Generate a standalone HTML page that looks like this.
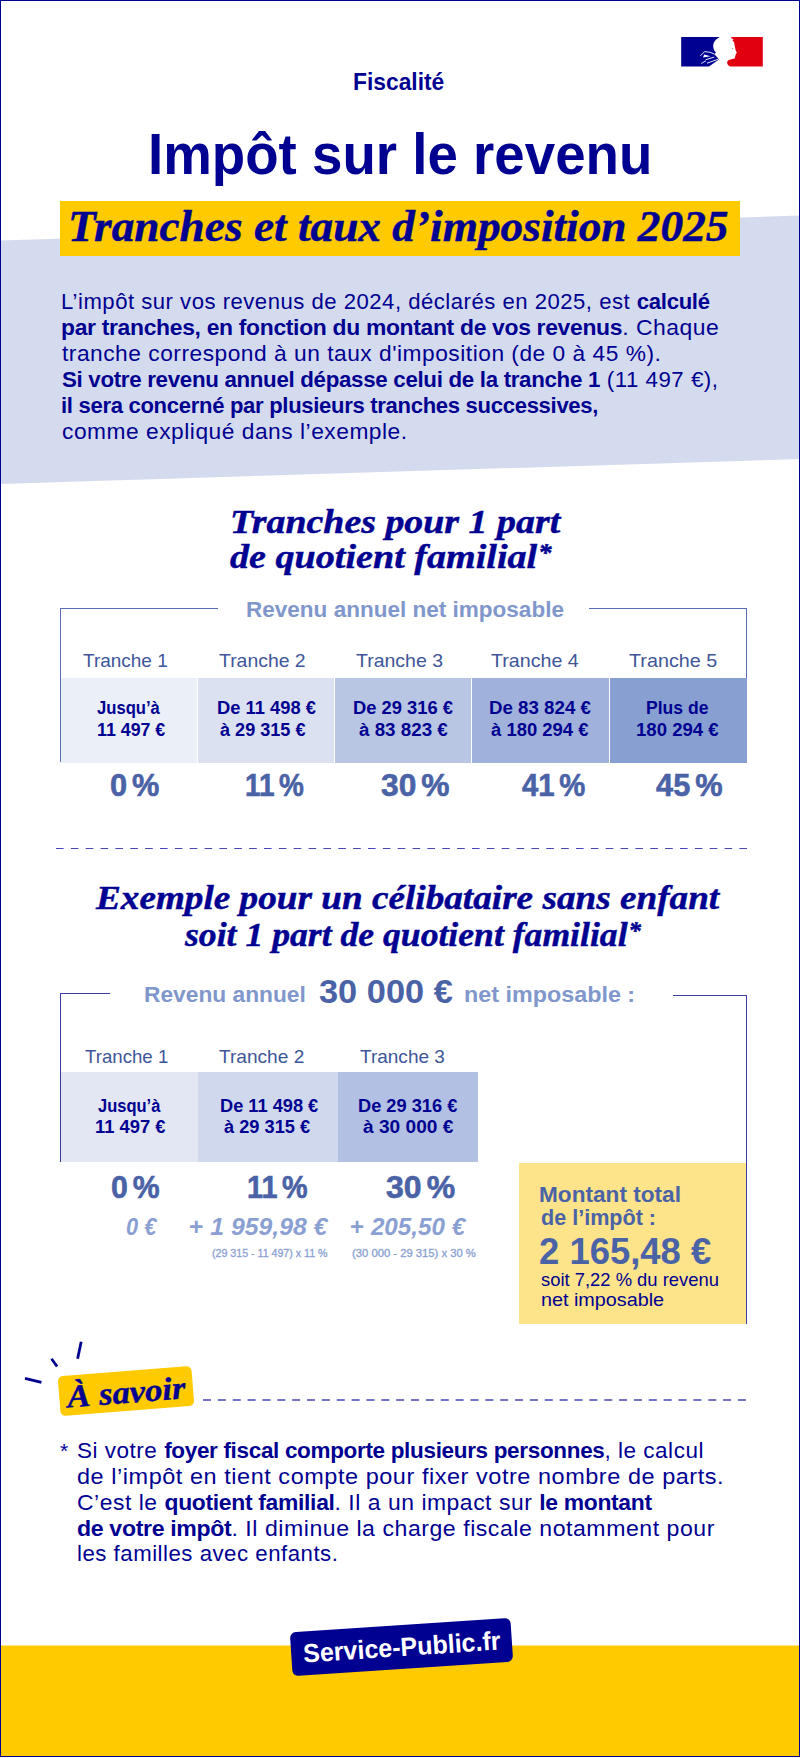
<!DOCTYPE html>
<html lang="fr">
<head>
<meta charset="utf-8">
<title>Impôt sur le revenu – Tranches et taux d’imposition 2025</title>
<style>
html,body{margin:0;padding:0;}
body{width:800px;height:1758px;position:relative;overflow:hidden;background:#fff;font-family:"Liberation Sans",sans-serif;color:#000091;}
.t{position:absolute;white-space:nowrap;transform-origin:0 0;}
.bm{display:inline-block;width:0;height:0;vertical-align:baseline;}
.ps{display:inline-block;width:5px;}
.t b{letter-spacing:-0.3px;}
.ast{font-size:0.7em;vertical-align:0.28em;margin-left:1px;}
.d{position:absolute;}
.ln{position:absolute;background:#5a6db0;}
.ln2{position:absolute;background:#3b3ba8;}
</style>
</head>
<body>
<div class="d deco" style="left:0;top:0;width:800px;height:1758px;">
<svg width="800" height="1758" viewBox="0 0 800 1758" style="position:absolute;left:0;top:0">
  <polygon points="0,240.6 800,215.6 800,459 0,484" fill="#d5dbee"/>
  <rect x="0" y="1645.5" width="800" height="111.5" fill="#ffca00"/>
  <!-- dashed separators -->
  <line x1="56" y1="848.5" x2="747.2" y2="848.5" stroke="#4646b4" stroke-width="1.2" stroke-dasharray="7.6 7.257"/>
  <line x1="203" y1="1400" x2="746.2" y2="1400" stroke="#7474c4" stroke-width="2" stroke-dasharray="8 6.86"/>
</svg>

<!-- logo -->
<svg style="position:absolute;left:680px;top:36px" width="84" height="32" viewBox="680 36 84 32">
  <path d="M681.2,36.9 L719.6,36.9 C717.2,38.4 714.8,40.4 713.7,42.8 C712.9,45.2 713.1,48.2 714.3,50.4 L715.9,52.6 L714.6,54.6 L716.9,57 L718.9,59.4 L709,66.5 L681.2,66.5 Z" fill="#000091"/>
  <g stroke="#fff" stroke-width="0.9" fill="none" stroke-linecap="round">
    <path d="M700.6,55.6 L704.6,51.6 Q710,51.6 714.4,54"/>
    <path d="M707.4,63.1 L718,59.3"/>
    <path d="M701.6,63.3 L705.6,61"/>
    <path d="M706,59.6 L713.8,57.2"/>
  </g>
  <polygon points="703,57.6 710.6,56.2 704.2,54.4" fill="#fff"/>
  <path d="M731.2,36.9 L762.8,36.9 L762.8,66.5 L730.2,66.5 C728.2,65.6 727.1,64.2 727.1,62.6 C727.3,61 728.5,60 730.2,59.6 L734.5,58.6 L735.3,56.2 L735.8,54.2 L736.9,52.7 L735.6,50.2 L734.6,45.2 L734.1,42.2 L732.4,40.4 L733.6,39.2 L731.4,38.2 Z" fill="#e1000f"/>
  <circle cx="732.6" cy="48.5" r="0.7" fill="#999"/>
</svg>

<!-- title box -->
<div class="d" style="left:60px;top:201px;width:680px;height:54.6px;background:#ffca00;"></div>

<!-- table 1 -->
<div class="d" style="left:61px;top:677.5px;width:135.5px;height:85px;background:#ebeff8;"></div>
<div class="d" style="left:198px;top:677.5px;width:136px;height:85px;background:#dbe1f0;"></div>
<div class="d" style="left:335px;top:677.5px;width:136px;height:85px;background:#b8c6e4;"></div>
<div class="d" style="left:472px;top:677.5px;width:136.5px;height:85px;background:#a0b2dc;"></div>
<div class="d" style="left:609.5px;top:677.5px;width:137px;height:85px;background:#87a0d1;"></div>
<div class="ln" style="left:60px;top:608px;width:158px;height:1.2px;"></div>
<div class="ln" style="left:589px;top:608px;width:158px;height:1.2px;"></div>
<div class="ln" style="left:60px;top:608px;width:1.2px;height:154px;"></div>
<div class="ln" style="left:745.8px;top:608px;width:1.2px;height:70px;"></div>

<!-- table 2 -->
<div class="d" style="left:61px;top:1072px;width:137px;height:90px;background:#e3e7f4;"></div>
<div class="d" style="left:198px;top:1072px;width:140px;height:90px;background:#d0d8ed;"></div>
<div class="d" style="left:338px;top:1072px;width:140px;height:90px;background:#b2c1e3;"></div>
<div class="d" style="left:519px;top:1163.3px;width:228px;height:160.7px;background:#fde38a;"></div>
<div class="ln2" style="left:60px;top:993px;width:50px;height:1.3px;"></div>
<div class="ln2" style="left:672.8px;top:994.6px;width:74.2px;height:1.3px;"></div>
<div class="ln2" style="left:60px;top:993px;width:1.3px;height:169px;"></div>
<div class="ln2" style="left:745.8px;top:994.6px;width:1.3px;height:329.4px;"></div>

<!-- a savoir -->
<svg style="position:absolute;left:0;top:1320px" width="220" height="110" viewBox="0 1320 220 110">
  <g stroke="#000091" stroke-width="2.8" stroke-linecap="butt">
    <line x1="25" y1="1378.4" x2="41.4" y2="1382.4"/>
    <line x1="51.5" y1="1358.8" x2="57.1" y2="1366.5"/>
    <line x1="81.2" y1="1341.7" x2="77.6" y2="1358.8"/>
  </g>
</svg>





<!-- page border -->
<div class="d" style="left:0;top:0;width:800px;height:1757px;box-sizing:border-box;border:1.2px solid #000091;"></div>
</div>

<div class="t" id="fisc" style="left:353.04px;top:70.51px;font-family:'Liberation Sans',sans-serif;font-size:23.5px;line-height:23.5px;color:#000091;font-weight:bold;transform:scaleX(0.9707);">Fiscalité<i class="bm"></i></div>
<div class="t" id="h1" style="left:147.92px;top:126.76px;font-family:'Liberation Sans',sans-serif;font-size:56.5px;line-height:56.5px;color:#000091;font-weight:bold;transform:scaleX(0.9677);">Impôt sur le revenu<i class="bm"></i></div>
<div class="t" id="h2" style="left:68.42px;top:205.21px;font-family:'Liberation Serif',serif;font-size:44px;line-height:44px;color:#000091;font-weight:bold;font-style:italic;transform:scaleX(1.0299);-webkit-text-stroke:0.45px #000091;">Tranches et taux d’imposition 2025<i class="bm"></i></div>
<div class="t" id="p0" style="left:61.19px;top:290.60px;font-family:'Liberation Sans',sans-serif;font-size:22px;line-height:22px;color:#000091;transform:scaleX(1.0050);letter-spacing:0.5px;">L’impôt sur vos revenus de 2024, déclarés en 2025, est <b>calculé</b><i class="bm"></i></div>
<div class="t" id="p1" style="left:61.14px;top:316.71px;font-family:'Liberation Sans',sans-serif;font-size:22px;line-height:22px;color:#000091;transform:scaleX(1.0398);letter-spacing:0.5px;"><b>par tranches, en fonction du montant de vos revenus</b>. Chaque<i class="bm"></i></div>
<div class="t" id="p2" style="left:62.19px;top:342.82px;font-family:'Liberation Sans',sans-serif;font-size:22px;line-height:22px;color:#000091;transform:scaleX(1.0333);letter-spacing:0.5px;">tranche correspond à un taux d'imposition (de 0 à 45 %).<i class="bm"></i></div>
<div class="t" id="p3" style="left:62.19px;top:368.91px;font-family:'Liberation Sans',sans-serif;font-size:22px;line-height:22px;color:#000091;transform:scaleX(1.0133);letter-spacing:0.5px;"><b>Si votre revenu annuel dépasse celui de la tranche 1</b> (11 497 €),<i class="bm"></i></div>
<div class="t" id="p4" style="left:61.20px;top:395.01px;font-family:'Liberation Sans',sans-serif;font-size:22px;line-height:22px;color:#000091;transform:scaleX(1.0022);letter-spacing:0.5px;"><b>il sera concerné par plusieurs tranches successives,</b><i class="bm"></i></div>
<div class="t" id="p5" style="left:62.19px;top:421.10px;font-family:'Liberation Sans',sans-serif;font-size:22px;line-height:22px;color:#000091;transform:scaleX(1.0343);letter-spacing:0.5px;">comme expliqué dans l’exemple.<i class="bm"></i></div>
<div class="t" id="t1a" style="left:229.55px;top:503.51px;font-family:'Liberation Serif',serif;font-size:34.6px;line-height:34.6px;color:#000091;font-weight:bold;font-style:italic;transform:scaleX(1.0957);-webkit-text-stroke:0.45px #000091;">Tranches pour 1 part<i class="bm"></i></div>
<div class="t" id="t1b" style="left:230.00px;top:536.23px;font-family:'Liberation Serif',serif;font-size:34.6px;line-height:34.6px;color:#000091;font-weight:bold;font-style:italic;transform:scaleX(1.1027);-webkit-text-stroke:0.45px #000091;">de quotient familial<span class="ast">*</span><i class="bm"></i></div>
<div class="t" id="lab1" style="left:245.77px;top:599.01px;font-family:'Liberation Sans',sans-serif;font-size:22px;line-height:22px;color:#8097cc;font-weight:bold;transform:scaleX(1.0239);">Revenu annuel net imposable<i class="bm"></i></div>
<div class="t" id="th0" style="left:83.20px;top:650.61px;font-family:'Liberation Sans',sans-serif;font-size:19px;line-height:19px;color:#3e5699;transform:scaleX(0.9988);">Tranche 1<i class="bm"></i></div>
<div class="t" id="th1" style="left:218.60px;top:650.61px;font-family:'Liberation Sans',sans-serif;font-size:19px;line-height:19px;color:#3e5699;transform:scaleX(1.0214);">Tranche 2<i class="bm"></i></div>
<div class="t" id="th2" style="left:355.80px;top:650.61px;font-family:'Liberation Sans',sans-serif;font-size:19px;line-height:19px;color:#3e5699;transform:scaleX(1.0262);">Tranche 3<i class="bm"></i></div>
<div class="t" id="th3" style="left:491.37px;top:650.61px;font-family:'Liberation Sans',sans-serif;font-size:19px;line-height:19px;color:#3e5699;transform:scaleX(1.0345);">Tranche 4<i class="bm"></i></div>
<div class="t" id="th4" style="left:628.98px;top:650.61px;font-family:'Liberation Sans',sans-serif;font-size:19px;line-height:19px;color:#3e5699;transform:scaleX(1.0405);">Tranche 5<i class="bm"></i></div>
<div class="t" id="ca0" style="left:96.65px;top:698.90px;font-family:'Liberation Sans',sans-serif;font-size:18px;line-height:18px;color:#000091;font-weight:bold;transform:scaleX(0.9239);">Jusqu’à<i class="bm"></i></div>
<div class="t" id="cb0" style="left:96.61px;top:720.60px;font-family:'Liberation Sans',sans-serif;font-size:18px;line-height:18px;color:#000091;font-weight:bold;transform:scaleX(0.9882);">11 497 €<i class="bm"></i></div>
<div class="t" id="ca1" style="left:216.58px;top:698.90px;font-family:'Liberation Sans',sans-serif;font-size:18px;line-height:18px;color:#000091;font-weight:bold;transform:scaleX(1.0189);">De 11 498 €<i class="bm"></i></div>
<div class="t" id="cb1" style="left:220.40px;top:720.60px;font-family:'Liberation Sans',sans-serif;font-size:18px;line-height:18px;color:#000091;font-weight:bold;transform:scaleX(1.0048);">à 29 315 €<i class="bm"></i></div>
<div class="t" id="ca2" style="left:352.98px;top:698.90px;font-family:'Liberation Sans',sans-serif;font-size:18px;line-height:18px;color:#000091;font-weight:bold;transform:scaleX(1.0186);">De 29 316 €<i class="bm"></i></div>
<div class="t" id="cb2" style="left:359.18px;top:720.60px;font-family:'Liberation Sans',sans-serif;font-size:18px;line-height:18px;color:#000091;font-weight:bold;transform:scaleX(1.0429);">à 83 823 €<i class="bm"></i></div>
<div class="t" id="ca3" style="left:488.96px;top:698.90px;font-family:'Liberation Sans',sans-serif;font-size:18px;line-height:18px;color:#000091;font-weight:bold;transform:scaleX(1.0392);">De 83 824 €<i class="bm"></i></div>
<div class="t" id="cb3" style="left:491.39px;top:720.60px;font-family:'Liberation Sans',sans-serif;font-size:18px;line-height:18px;color:#000091;font-weight:bold;transform:scaleX(1.0245);">à 180 294 €<i class="bm"></i></div>
<div class="t" id="ca4" style="left:646.04px;top:698.90px;font-family:'Liberation Sans',sans-serif;font-size:18px;line-height:18px;color:#000091;font-weight:bold;transform:scaleX(0.9758);">Plus de<i class="bm"></i></div>
<div class="t" id="cb4" style="left:635.58px;top:720.60px;font-family:'Liberation Sans',sans-serif;font-size:18px;line-height:18px;color:#000091;font-weight:bold;transform:scaleX(1.0316);">180 294 €<i class="bm"></i></div>
<div class="t" id="pc0" style="left:110.21px;top:770.21px;font-family:'Liberation Sans',sans-serif;font-size:31.5px;line-height:31.5px;color:#4a62a6;font-weight:bold;transform:scaleX(0.9760);-webkit-text-stroke:0.6px #4a62a6;">0<span class="ps"></span>%<i class="bm"></i></div>
<div class="t" id="pc1" style="left:244.73px;top:770.21px;font-family:'Liberation Sans',sans-serif;font-size:31.5px;line-height:31.5px;color:#4a62a6;font-weight:bold;transform:scaleX(0.8877);-webkit-text-stroke:0.6px #4a62a6;">11<span class="ps"></span>%<i class="bm"></i></div>
<div class="t" id="pc2" style="left:381.20px;top:770.21px;font-family:'Liberation Sans',sans-serif;font-size:31.5px;line-height:31.5px;color:#4a62a6;font-weight:bold;transform:scaleX(1.0075);-webkit-text-stroke:0.6px #4a62a6;">30<span class="ps"></span>%<i class="bm"></i></div>
<div class="t" id="pc3" style="left:522.19px;top:770.21px;font-family:'Liberation Sans',sans-serif;font-size:31.5px;line-height:31.5px;color:#4a62a6;font-weight:bold;transform:scaleX(0.9294);-webkit-text-stroke:0.6px #4a62a6;">41<span class="ps"></span>%<i class="bm"></i></div>
<div class="t" id="pc4" style="left:656.20px;top:770.21px;font-family:'Liberation Sans',sans-serif;font-size:31.5px;line-height:31.5px;color:#4a62a6;font-weight:bold;transform:scaleX(0.9779);-webkit-text-stroke:0.6px #4a62a6;">45<span class="ps"></span>%<i class="bm"></i></div>
<div class="t" id="exa" style="left:96.04px;top:879.75px;font-family:'Liberation Serif',serif;font-size:34.5px;line-height:34.5px;color:#000091;font-weight:bold;font-style:italic;transform:scaleX(1.0783);-webkit-text-stroke:0.45px #000091;">Exemple pour un célibataire sans enfant<i class="bm"></i></div>
<div class="t" id="exb" style="left:185.02px;top:913.66px;font-family:'Liberation Serif',serif;font-size:34.5px;line-height:34.5px;color:#000091;font-weight:bold;font-style:italic;transform:scaleX(1.0330);-webkit-text-stroke:0.45px #000091;">soit 1 part de quotient familial<span class="ast">*</span><i class="bm"></i></div>
<div class="t" id="lab2a" style="left:144.48px;top:984.01px;font-family:'Liberation Sans',sans-serif;font-size:22.5px;line-height:22.5px;color:#8097cc;font-weight:bold;transform:scaleX(1.0111);">Revenu annuel<i class="bm"></i></div>
<div class="t" id="lab2b" style="left:318.99px;top:973.90px;font-family:'Liberation Sans',sans-serif;font-size:34px;line-height:34px;color:#4a62a6;font-weight:bold;transform:scaleX(1.0107);">30 000 €<i class="bm"></i></div>
<div class="t" id="lab2c" style="left:463.94px;top:984.01px;font-family:'Liberation Sans',sans-serif;font-size:22.5px;line-height:22.5px;color:#8097cc;font-weight:bold;transform:scaleX(1.0370);">net imposable :<i class="bm"></i></div>
<div class="t" id="eh0" style="left:84.99px;top:1047.51px;font-family:'Liberation Sans',sans-serif;font-size:18.2px;line-height:18.2px;color:#3e5699;transform:scaleX(1.0250);">Tranche 1<i class="bm"></i></div>
<div class="t" id="eh1" style="left:219.36px;top:1047.51px;font-family:'Liberation Sans',sans-serif;font-size:18.2px;line-height:18.2px;color:#3e5699;transform:scaleX(1.0500);">Tranche 2<i class="bm"></i></div>
<div class="t" id="eh2" style="left:360.18px;top:1047.51px;font-family:'Liberation Sans',sans-serif;font-size:18.2px;line-height:18.2px;color:#3e5699;transform:scaleX(1.0450);">Tranche 3<i class="bm"></i></div>
<div class="t" id="eca0" style="left:97.66px;top:1097.21px;font-family:'Liberation Sans',sans-serif;font-size:18px;line-height:18px;color:#000091;font-weight:bold;transform:scaleX(0.9164);">Jusqu’à<i class="bm"></i></div>
<div class="t" id="ecb0" style="left:95.37px;top:1117.81px;font-family:'Liberation Sans',sans-serif;font-size:18px;line-height:18px;color:#000091;font-weight:bold;transform:scaleX(1.0194);">11 497 €<i class="bm"></i></div>
<div class="t" id="eca1" style="left:220.39px;top:1097.21px;font-family:'Liberation Sans',sans-serif;font-size:18px;line-height:18px;color:#000091;font-weight:bold;transform:scaleX(1.0115);">De 11 498 €<i class="bm"></i></div>
<div class="t" id="ecb1" style="left:223.59px;top:1117.81px;font-family:'Liberation Sans',sans-serif;font-size:18px;line-height:18px;color:#000091;font-weight:bold;transform:scaleX(1.0119);">à 29 315 €<i class="bm"></i></div>
<div class="t" id="eca2" style="left:358.39px;top:1097.21px;font-family:'Liberation Sans',sans-serif;font-size:18px;line-height:18px;color:#000091;font-weight:bold;transform:scaleX(1.0124);">De 29 316 €<i class="bm"></i></div>
<div class="t" id="ecb2" style="left:362.76px;top:1117.81px;font-family:'Liberation Sans',sans-serif;font-size:18px;line-height:18px;color:#000091;font-weight:bold;transform:scaleX(1.0619);">à 30 000 €<i class="bm"></i></div>
<div class="t" id="epc0" style="left:110.82px;top:1171.80px;font-family:'Liberation Sans',sans-serif;font-size:31.5px;line-height:31.5px;color:#4a62a6;font-weight:bold;transform:scaleX(0.9600);-webkit-text-stroke:0.6px #4a62a6;">0<span class="ps"></span>%<i class="bm"></i></div>
<div class="t" id="epc1" style="left:247.13px;top:1171.80px;font-family:'Liberation Sans',sans-serif;font-size:31.5px;line-height:31.5px;color:#4a62a6;font-weight:bold;transform:scaleX(0.9141);-webkit-text-stroke:0.6px #4a62a6;">11<span class="ps"></span>%<i class="bm"></i></div>
<div class="t" id="epc2" style="left:385.79px;top:1171.80px;font-family:'Liberation Sans',sans-serif;font-size:31.5px;line-height:31.5px;color:#4a62a6;font-weight:bold;transform:scaleX(1.0149);-webkit-text-stroke:0.6px #4a62a6;">30<span class="ps"></span>%<i class="bm"></i></div>
<div class="t" id="am0" style="left:125.84px;top:1216.31px;font-family:'Liberation Sans',sans-serif;font-size:23.5px;line-height:23.5px;color:#8aa0d3;font-weight:bold;font-style:italic;transform:scaleX(0.9273);">0 €<i class="bm"></i></div>
<div class="t" id="am1" style="left:188.95px;top:1216.31px;font-family:'Liberation Sans',sans-serif;font-size:23.5px;line-height:23.5px;color:#8aa0d3;font-weight:bold;font-style:italic;transform:scaleX(1.0534);"><span style="font-style:normal">+</span> 1 959,98 €<i class="bm"></i></div>
<div class="t" id="am2" style="left:349.97px;top:1216.31px;font-family:'Liberation Sans',sans-serif;font-size:23.5px;line-height:23.5px;color:#8aa0d3;font-weight:bold;font-style:italic;transform:scaleX(1.0304);"><span style="font-style:normal">+</span> 205,50 €<i class="bm"></i></div>
<div class="t" id="fm0" style="left:211.99px;top:1247.50px;font-family:'Liberation Sans',sans-serif;font-size:10.5px;line-height:10.5px;color:#8aa0d3;transform:scaleX(1.0132);-webkit-text-stroke:0.3px #8aa0d3;">(29 315 - 11 497) x 11 %<i class="bm"></i></div>
<div class="t" id="fm1" style="left:351.76px;top:1247.50px;font-family:'Liberation Sans',sans-serif;font-size:10.5px;line-height:10.5px;color:#8aa0d3;transform:scaleX(1.0713);-webkit-text-stroke:0.3px #8aa0d3;">(30 000 - 29 315) x 30 %<i class="bm"></i></div>
<div class="t" id="yb0" style="left:539.45px;top:1183.76px;font-family:'Liberation Sans',sans-serif;font-size:22px;line-height:22px;color:#4a62a6;font-weight:bold;transform:scaleX(1.0278);">Montant total<i class="bm"></i></div>
<div class="t" id="yb1" style="left:541.02px;top:1207.01px;font-family:'Liberation Sans',sans-serif;font-size:22px;line-height:22px;color:#4a62a6;font-weight:bold;transform:scaleX(0.9803);">de l’impôt :<i class="bm"></i></div>
<div class="t" id="yb2" style="left:538.98px;top:1233.75px;font-family:'Liberation Sans',sans-serif;font-size:36px;line-height:36px;color:#4a62a6;font-weight:bold;transform:scaleX(1.0119);">2 165,48 €<i class="bm"></i></div>
<div class="t" id="yb3" style="left:541.01px;top:1271.26px;font-family:'Liberation Sans',sans-serif;font-size:18.5px;line-height:18.5px;color:#000091;transform:scaleX(0.9944);">soit 7,22 % du revenu<i class="bm"></i></div>
<div class="t" id="yb4" style="left:540.93px;top:1291.26px;font-family:'Liberation Sans',sans-serif;font-size:18.5px;line-height:18.5px;color:#000091;transform:scaleX(1.0680);">net imposable<i class="bm"></i></div>
<div class="t" id="fnst" style="left:60.00px;top:1440.00px;font-family:'Liberation Sans',sans-serif;font-size:21px;line-height:21px;color:#000091;">*<i class="bm"></i></div>
<div class="t" id="fn0" style="left:77.44px;top:1441.01px;font-family:'Liberation Sans',sans-serif;font-size:21.4px;line-height:21.4px;color:#000091;transform:scaleX(1.0504);letter-spacing:0.5px;">Si votre <b>foyer fiscal comporte plusieurs personnes</b>, le calcul<i class="bm"></i></div>
<div class="t" id="fn1" style="left:77.38px;top:1466.91px;font-family:'Liberation Sans',sans-serif;font-size:21.4px;line-height:21.4px;color:#000091;transform:scaleX(1.0968);letter-spacing:0.5px;">de l’impôt en tient compte pour fixer votre nombre de parts.<i class="bm"></i></div>
<div class="t" id="fn2" style="left:77.41px;top:1492.81px;font-family:'Liberation Sans',sans-serif;font-size:21.4px;line-height:21.4px;color:#000091;transform:scaleX(1.0702);letter-spacing:0.5px;">C’est le <b>quotient familial</b>. Il a un impact sur <b>le montant</b><i class="bm"></i></div>
<div class="t" id="fn3" style="left:77.40px;top:1518.70px;font-family:'Liberation Sans',sans-serif;font-size:21.4px;line-height:21.4px;color:#000091;transform:scaleX(1.0787);letter-spacing:0.5px;"><b>de votre impôt</b>. Il diminue la charge fiscale notamment pour<i class="bm"></i></div>
<div class="t" id="fn4" style="left:77.45px;top:1544.20px;font-family:'Liberation Sans',sans-serif;font-size:21.4px;line-height:21.4px;color:#000091;transform:scaleX(1.0373);letter-spacing:0.5px;">les familles avec enfants.<i class="bm"></i></div>

<div class="d" id="asavbox" style="left:59.15px;top:1371.4px;width:134px;height:40px;background:#ffca00;border-radius:5px;transform:rotate(-4.5deg);transform-origin:50% 50%;">
<div class="t" id="asav" style="left:7.8px;top:4.7px;font-family:'Liberation Serif',serif;font-style:italic;font-weight:bold;font-size:32px;line-height:32px;color:#000091;transform:scaleX(1.082);transform-origin:0 0;-webkit-text-stroke:0.4px #000091;">À savoir</div></div>
<div class="d" id="spfbox" style="left:290.5px;top:1624.85px;width:221px;height:44px;background:#000091;border-radius:6px;transform:rotate(-3.79deg);transform-origin:50% 50%;">
<div class="t" id="spf" style="left:12.3px;top:8.54px;font-family:'Liberation Sans',sans-serif;font-weight:bold;font-size:26px;line-height:26px;color:#fff;transform:scaleX(0.963);">Service-Public.fr</div></div>
</body>
</html>
